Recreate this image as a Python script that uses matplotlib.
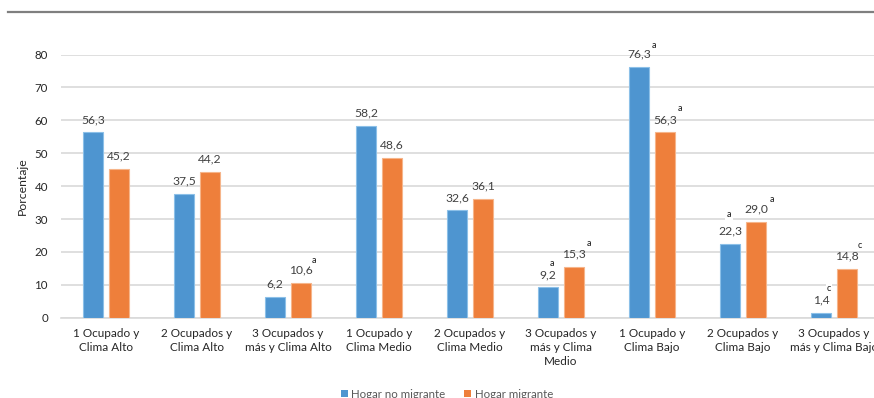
import matplotlib
matplotlib.use("Agg")
import matplotlib.pyplot as plt
from matplotlib.lines import Line2D
from matplotlib.patches import Patch
import numpy as np

plt.rcParams['font.family'] = ['Lato', 'DejaVu Sans']

categories = [
    "1 Ocupado y\nClima Alto",
    "2 Ocupados y\nClima Alto",
    "3 Ocupados y\nmás y Clima Alto",
    "1 Ocupado y\nClima Medio",
    "2 Ocupados y\nClima Medio",
    "3 Ocupados y\nmás y Clima\nMedio",
    "1 Ocupado y\nClima Bajo",
    "2 Ocupados y\nClima Bajo",
    "3 Ocupados y\nmás y Clima Bajo",
]
series_names = ["Hogar no migrante", "Hogar migrante"]
no_migrante = [56.3, 37.5, 6.2, 58.2, 32.6, 9.2, 76.3, 22.3, 1.4]
migrante = [45.2, 44.2, 10.6, 48.6, 36.1, 15.3, 56.3, 29.0, 14.8]
marks_no_migrante = ["", "", "", "", "", "a", "a", "a", "c"]
marks_migrante = ["", "", "a", "", "", "a", "a", "a", "c"]
y_ticks = [0, 10, 20, 30, 40, 50, 60, 70, 80]

# offsets (px) of the significance letters relative to each value label
mark_offsets_no = {5: (4, 11), 6: (15, 8), 7: (-1, 17), 8: (8, 12)}
mark_offsets_mi = {2: (13, 9), 5: (15, 11), 6: (15, 11), 7: (16, 10), 8: (13, 11)}

W, H = 874, 398
fig = plt.figure(figsize=(W / 100, H / 100), dpi=100)
ax = fig.add_axes([60.5 / W, (H - 317.7) / H, 819 / W, 263.2 / H])

blue = "#4E95D0"
orange = "#EE7F3B"
x = np.arange(len(categories))
width = 0.21
off = 0.143
b1 = ax.bar(x - off, no_migrante, width, color=blue, edgecolor="#8CC0E8", linewidth=0.8, zorder=3)
b2 = ax.bar(x + off, migrante, width, color=orange, edgecolor="#F6B58A", linewidth=0.8, zorder=3)

ax.set_xlim(-0.5, len(categories) - 0.5)
ax.set_ylim(0, 80)
ax.set_yticks(y_ticks)
ax.set_yticklabels([str(t) for t in y_ticks], fontsize=8.3, color="#262626")
ax.set_xticks(x)
ax.set_xticklabels(categories, fontsize=8.5, color="#262626", linespacing=1.3)
ax.tick_params(axis="both", length=0)
ax.tick_params(axis="x", pad=7.5)
ax.tick_params(axis="y", pad=9)
ax.yaxis.grid(True, color="#D9D9D9", linewidth=1.2, zorder=0)
for s in ["top", "right", "left"]:
    ax.spines[s].set_visible(False)
ax.spines["bottom"].set_color("#D9D9D9")
ax.spines["bottom"].set_linewidth(1.2)
ax.spines["bottom"].set_zorder(1)

ax.set_ylabel("Porcentaje", fontsize=8.8, color="#262626", labelpad=5)

px = 0.72  # points per pixel


def label_bars(bars, values, marks, offsets):
    for i, (bar, v, m) in enumerate(zip(bars, values, marks)):
        cx = bar.get_x() + bar.get_width() / 2
        ax.annotate(f"{v:.1f}".replace(".", ","), (cx, v), xytext=(0, 13 * px),
                    textcoords="offset points", ha="center", va="center",
                    fontsize=8.7, color="#404040", annotation_clip=False, zorder=5)
        if m:
            dx, dy = offsets.get(i, (12, 10))
            ax.annotate(m, (cx, v), xytext=(dx * px, (13 + dy) * px),
                        textcoords="offset points", ha="center", va="center",
                        fontsize=6.5, color="#1a1a1a", annotation_clip=False, zorder=6,
                        bbox=dict(boxstyle="square,pad=0.15", fc="white", ec="none"))


label_bars(b1, no_migrante, marks_no_migrante, mark_offsets_no)
label_bars(b2, migrante, marks_migrante, mark_offsets_mi)

# rule across the top of the figure
fig.add_artist(Line2D([8 / W, 1.0], [1 - 11.7 / H, 1 - 11.7 / H],
                      color="#7F7F7F", linewidth=1.6, transform=fig.transFigure))

handles = [Patch(facecolor=blue, edgecolor="none"), Patch(facecolor=orange, edgecolor="none")]
fig.legend(handles, series_names, loc="center", bbox_to_anchor=(447 / W, 1 - 394 / H),
           ncol=2, frameon=False, fontsize=8.3, labelcolor="#595959",
           handlelength=0.6, handleheight=0.6, handletextpad=0.3, columnspacing=1.6,
           borderpad=0, borderaxespad=0)

fig.savefig("out.png", dpi=100)
